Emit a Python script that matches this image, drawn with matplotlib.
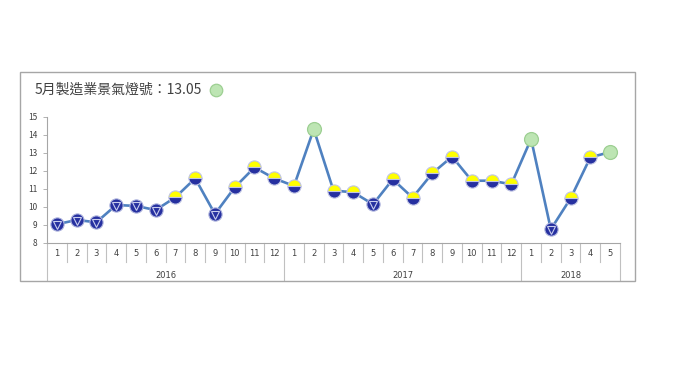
import numpy as np
import matplotlib
matplotlib.use("Agg")
import matplotlib.pyplot as plt
from matplotlib.patches import Rectangle

plt.rcParams['font.family'] = ['Noto Sans CJK TC', 'DejaVu Sans']

years = ['2016', '2017', '2018']
months_per_year = [12, 12, 5]
month_labels = [str(m) for m in range(1, 13)] * 2 + [str(m) for m in range(1, 6)]
scores = [9.04, 9.28, 9.15, 10.11, 10.06, 9.83, 10.54, 11.59, 9.61, 11.09, 12.2, 11.59,
          11.17, 14.32, 10.91, 10.82, 10.15, 11.54, 10.52, 11.87, 12.8, 11.46, 11.46, 11.26,
          13.78, 8.76, 10.48, 12.76, 13.05]
# B = blue, YB = yellow-blue, G = green
signals = ['B', 'B', 'B', 'B', 'B', 'B', 'YB', 'YB', 'B', 'YB', 'YB', 'YB',
           'YB', 'G', 'YB', 'YB', 'B', 'YB', 'YB', 'YB', 'YB', 'YB', 'YB', 'YB',
           'G', 'B', 'YB', 'YB', 'G']
title = '5月製造業景氣燈號：13.05'

W, H = 680, 382
fig = plt.figure(figsize=(W / 100, H / 100), dpi=100)
fig.patch.set_facecolor('white')

# outer frame
fig.patches.append(Rectangle((20 / W, 1 - 281 / H), 615 / W, 209 / H,
                             transform=fig.transFigure, fill=False,
                             edgecolor='#a6a6a6', linewidth=1))

ax = fig.add_axes([47 / W, 1 - 243 / H, 573 / W, 126 / H])
x = np.arange(len(scores))
ax.plot(x, scores, color='#4f81c0', linewidth=1.9, zorder=2)

blue = '#2630a0'
ms = 9.5
for xi, yi, s in zip(x, scores, signals):
    if s == 'B':
        ax.plot(xi, yi, 'o', ms=ms, mfc=blue, mec='#aab0dc', mew=0.8, zorder=3)
        ax.plot(xi, yi - 0.03, 'v', ms=6, mfc=blue, mec='#c9cdee', mew=0.8, zorder=4)
    elif s == 'YB':
        ax.plot(xi, yi, 'o', ms=ms, fillstyle='top', mfc='#ffff00', mfcalt=blue,
                mec='#c0c4e4', mew=0.8, zorder=3)
    else:
        ax.plot(xi, yi, 'o', ms=ms + 0.5, mfc='#bde5b3', mec='#9dcf92', mew=0.9, zorder=3)

ax.set_xlim(-0.5, len(scores) - 0.5)
ax.set_ylim(8, 15)
ax.set_yticks(range(8, 16))
ax.tick_params(axis='y', labelsize=6, colors='#404040', length=3, width=0.6,
               color='#a6a6a6', pad=4)
ax.set_xticks([])
for sp in ['top', 'right']:
    ax.spines[sp].set_visible(False)
for sp in ['left', 'bottom']:
    ax.spines[sp].set_color('#a6a6a6')
    ax.spines[sp].set_linewidth(0.8)

trans = ax.get_xaxis_transform()
for i, lab in enumerate(month_labels):
    ax.text(i, -0.087, lab, transform=trans, ha='center', va='center',
            fontsize=6, color='#404040', family=['DejaVu Sans'])
# separators
starts = np.cumsum([0] + months_per_year)
for b in range(len(scores) + 1):
    xb = b - 0.5
    bottom = -0.294 if b in starts else -0.15
    ax.plot([xb, xb], [0, bottom], transform=trans, color='#c0c0c0',
            linewidth=0.8, clip_on=False)
for k, yr in enumerate(years):
    mid = (starts[k] + starts[k + 1] - 1) / 2
    ax.text(mid, -0.254, yr, transform=trans, ha='center', va='center',
            fontsize=6, color='#404040', family=['DejaVu Sans'])

fig.text(35 / W, 1 - 90 / H, title, fontsize=10, color='#404040',
         ha='left', va='center')
fig.lines.append(plt.Line2D([216 / W], [1 - 90 / H], marker='o', ms=9,
                            mfc='#bde5b3', mec='#9dcf92', mew=0.9,
                            transform=fig.transFigure))

fig.savefig('out.png', dpi=100, facecolor='white')
